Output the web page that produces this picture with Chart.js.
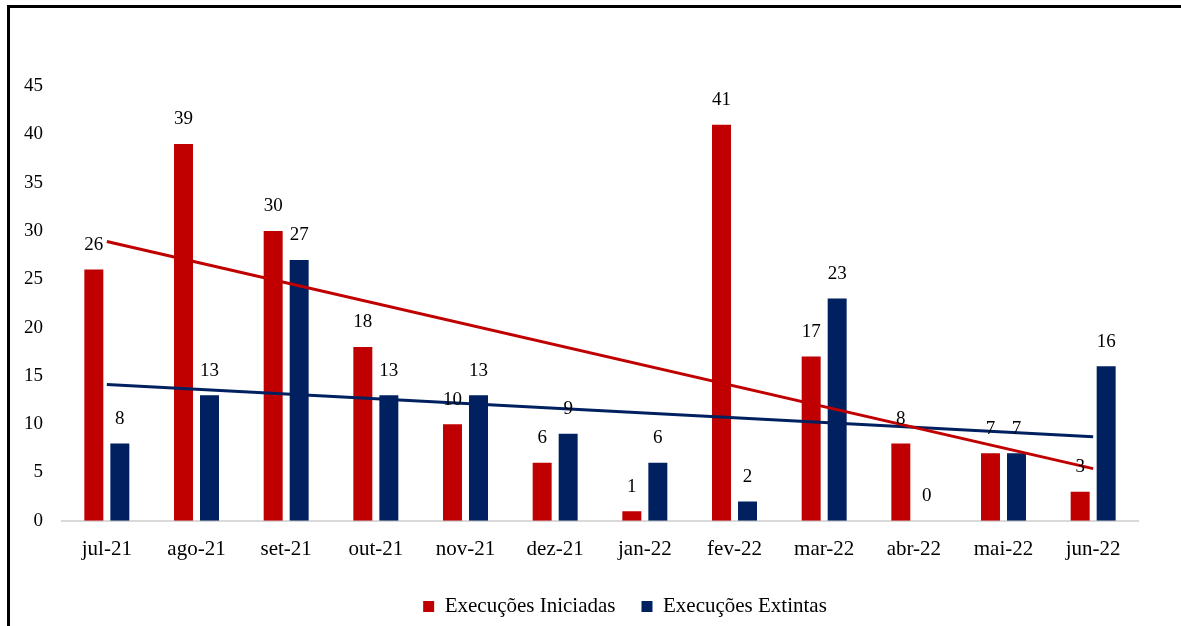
<!DOCTYPE html>
<html>
<head>
<meta charset="utf-8">
<script src="https://cdn.jsdelivr.net/npm/chart.js@4.4.1/dist/chart.umd.min.js"></script>
<style>
    html, body { margin: 0; padding: 0; background: #fff; overflow: hidden; }
    #frame {
        position: absolute;
        left: 7px;
        top: 5px;
        width: 1174px;
        height: 622px;
        border-left: 3px solid #000;
        border-top: 3px solid #000;
    }
    #wrap { position: relative; width: 1171px; height: 619px; }
</style>
</head>
<body>
<div id="frame"><div id="wrap"><canvas id="myChart"></canvas></div></div>
<script>
const meses = ['jul-21', 'ago-21', 'set-21', 'out-21', 'nov-21', 'dez-21', 'jan-22', 'fev-22', 'mar-22', 'abr-22', 'mai-22', 'jun-22'];
const iniciadas = [26, 39, 30, 18, 10, 6, 1, 41, 17, 8, 7, 3];
const extintas = [8, 13, 27, 13, 13, 9, 6, 2, 23, 0, 7, 16];
// trend lines at first and last month
const tendIniciadas = [28.9, null, null, null, null, null, null, null, null, null, null, 5.4];
const tendExtintas = [14.1, null, null, null, null, null, null, null, null, null, null, 8.7];
const yTicks = [0, 5, 10, 15, 20, 25, 30, 35, 40, 45];

const serif = '"Liberation Serif", "Times New Roman", serif';
const vermelho = '#C00000';
const azul = '#002060';

// value labels on top of the bars
const rotulos = {
    id: 'rotulos',
    afterLayout(chart) {
        // legend sits a bit right of centre in the original
        chart.legend.left += 51;
        chart.legend.right += 51;
    },
    afterDatasetsDraw(chart) {
        const ctx = chart.ctx;
        ctx.save();
        ctx.font = '19px ' + serif;
        ctx.fillStyle = '#000';
        ctx.textAlign = 'center';
        ctx.textBaseline = 'bottom';
        chart.data.datasets.forEach(function (ds, i) {
            if (ds.type === 'line') return;
            const meta = chart.getDatasetMeta(i);
            meta.data.forEach(function (bar, j) {
                ctx.fillText(ds.data[j], bar.x, bar.y - 15);
            });
        });
        ctx.restore();
    }
};

new Chart(document.getElementById('myChart'), {
    type: 'bar',
    data: {
        labels: meses,
        datasets: [
            {
                type: 'line',
                label: 'tend1',
                data: tendIniciadas,
                borderColor: vermelho,
                borderWidth: 3,
                pointRadius: 0,
                spanGaps: true,
                order: 0
            },
            {
                type: 'line',
                label: 'tend2',
                data: tendExtintas,
                borderColor: azul,
                borderWidth: 3,
                pointRadius: 0,
                spanGaps: true,
                order: 0
            },
            {
                label: 'Execuções Iniciadas',
                data: iniciadas,
                backgroundColor: vermelho,
                categoryPercentage: 0.58,
                barPercentage: 0.73,
                order: 1
            },
            {
                label: 'Execuções Extintas',
                data: extintas,
                backgroundColor: azul,
                categoryPercentage: 0.58,
                barPercentage: 0.73,
                order: 1
            }
        ]
    },
    options: {
        responsive: true,
        maintainAspectRatio: false,
        animation: false,
        layout: { padding: { top: 78, right: 43, left: 0, bottom: 0 } },
        plugins: {
            tooltip: { enabled: false },
            legend: {
                position: 'bottom',
                labels: {
                    boxWidth: 11,
                    boxHeight: 11,
                    padding: 26,
                    color: '#000',
                    font: { family: serif, size: 21 },
                    filter: function (item) { return item.datasetIndex > 1; }
                }
            }
        },
        scales: {
            x: {
                grid: { display: false },
                border: { display: true, color: '#d9d9d9', width: 2 },
                ticks: { color: '#000', padding: 8, font: { family: serif, size: 21 } }
            },
            y: {
                min: 0,
                max: 45,
                afterBuildTicks: function (scale) {
                    scale.ticks = yTicks.map(function (v) { return { value: v }; });
                },
                afterFit: function (scale) { scale.width = 52; },
                grid: { display: false },
                border: { display: false },
                ticks: { color: '#000', padding: 11, font: { family: serif, size: 19 } }
            }
        }
    },
    plugins: [rotulos]
});
</script>
</body>
</html>
